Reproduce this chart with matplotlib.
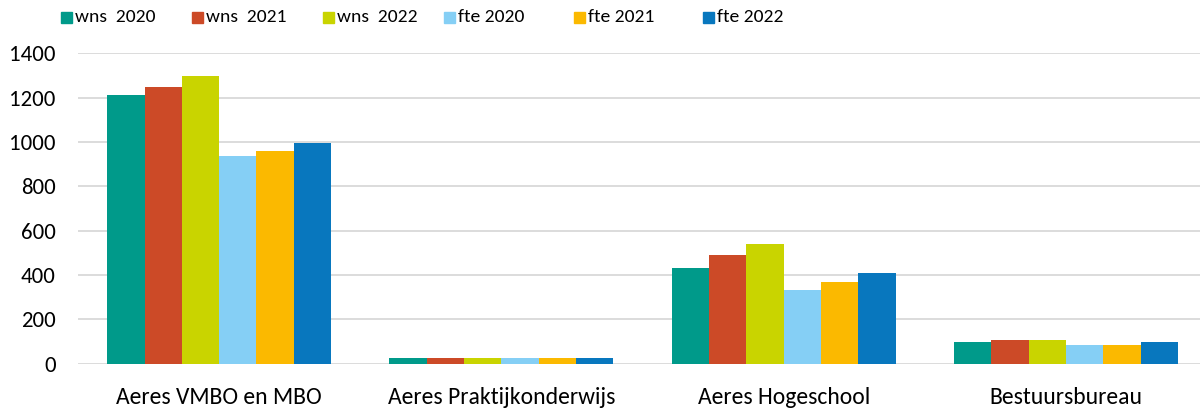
import numpy as np
import matplotlib.pyplot as plt
from matplotlib.patches import Rectangle

categories = ['Aeres VMBO en MBO', 'Aeres Praktijkonderwijs', 'Aeres Hogeschool', 'Bestuursbureau']
series = ['wns  2020', 'wns  2021', 'wns  2022', 'fte 2020', 'fte 2021', 'fte 2022']
wns_2020 = [1213, 24, 430, 96]
wns_2021 = [1250, 24, 491, 108]
wns_2022 = [1298, 24, 540, 108]
fte_2020 = [937, 24, 333, 84]
fte_2021 = [961, 24, 369, 84]
fte_2022 = [996, 24, 407, 96]
yticks = [0, 200, 400, 600, 800, 1000, 1200, 1400]

kleuren = ['#009A8A', '#CC4A27', '#C9D400', '#85CFF5', '#FBB900', '#0877BE']
waarden = [wns_2020, wns_2021, wns_2022, fte_2020, fte_2021, fte_2022]

plt.rcParams['font.family'] = ['Carlito', 'DejaVu Sans']

fig = plt.figure(figsize=(12, 4.12), dpi=100)
ax = fig.add_axes([0.065, 0.1177, 0.941, 0.7529])

x = np.arange(len(categories))
b = 0.1322
for i in range(len(series)):
    ax.bar(x + (i - 2.5) * b, waarden[i], width=b, color=kleuren[i], zorder=3)

ax.set_ylim(0, 1400)
ax.set_xlim(-0.5, len(categories) - 0.5)
ax.set_yticks(yticks)
ax.set_xticks(x)
ax.set_xticklabels(categories)
ax.grid(axis='y', color='#D9D9D9', linewidth=1.3, zorder=0)
for s in ax.spines.values():
    s.set_visible(False)
ax.tick_params(axis='y', length=0, pad=16, labelsize=16.5, colors='black')
ax.tick_params(axis='x', length=0, pad=17, labelsize=17, colors='black')

# legenda handmatig, zoals in Excel
leg_x = [61, 192, 323, 444, 574, 703]
for i in range(len(series)):
    fig.patches.append(Rectangle((leg_x[i] / 1200, 1 - 23 / 412), 11 / 1200, 11 / 412,
                                 transform=fig.transFigure, color=kleuren[i]))
    fig.text((leg_x[i] + 14) / 1200, 1 - 16.5 / 412, series[i], fontsize=14,
             va='center', ha='left')

plt.savefig('out.png', dpi=100)
